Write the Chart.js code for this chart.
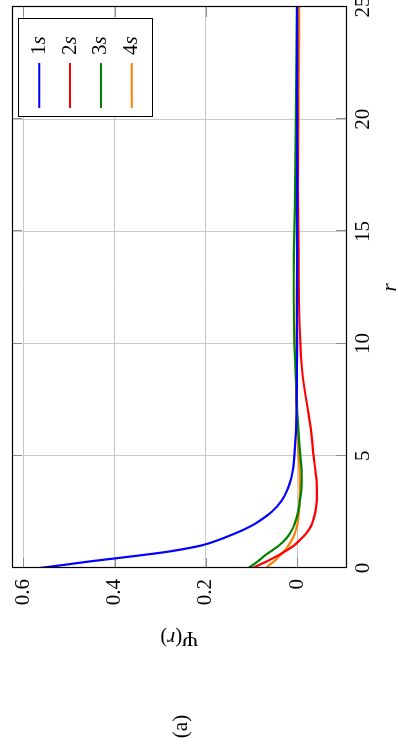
<!DOCTYPE html>
<html><head><meta charset="utf-8">
<script src="https://cdn.jsdelivr.net/npm/chart.js@4.4.1/dist/chart.umd.min.js"></script>
<style>
html,body{margin:0;padding:0;background:#fff;overflow:hidden;width:398px;height:751px;}
#wrap{position:absolute;left:0;top:0;width:751px;height:398px;transform-origin:0 0;transform:translate(0,751px) rotate(-90deg);}
canvas{display:block;}
</style></head><body>
<div id="wrap"><canvas id="c" width="751" height="398"></canvas></div>
<script>
// ---- data ----
const rValues = [0,0.15,0.3,0.45,0.6,0.75,1,1.25,1.5,1.75,2,2.5,3,3.5,4,4.5,5,6,7,8,9,10,12,14,16,18,20,22.5,25];
const psi1s = [0.564,0.507,0.452,0.390,0.330,0.276,0.211,0.172,0.141,0.113,0.090,0.056,0.034,0.021,0.013,0.0085,0.006,0.003,0.0015,0.0008,0.0004,0.0002,0,0,0,0,0,0,0];
const psi2s = [0.097,0.082,0.066,0.052,0.038,0.026,0.007,-0.006,-0.018,-0.027,-0.033,-0.040,-0.043,-0.043,-0.042,-0.039,-0.036,-0.031,-0.024,-0.016,-0.010,-0.0068,-0.004,-0.003,-0.002,-0.0015,-0.001,-0.0005,0];
const psi3s = [0.107,0.096,0.086,0.077,0.068,0.057,0.040,0.027,0.017,0.010,0.005,-0.002,-0.006,-0.009,-0.010,-0.009,-0.007,-0.003,0.000,0.002,0.004,0.006,0.0075,0.0072,0.005,0.0038,0.003,0.0018,0.0007];
const psi4s = [0.068,0.060,0.050,0.043,0.036,0.029,0.019,0.012,0.006,0.002,-0.001,-0.004,-0.005,-0.006,-0.006,-0.005,-0.003,-0.001,0.001,0.0025,0.003,0.002,0.001,0,-0.001,-0.002,-0.003,-0.0037,-0.0044];
const seriesNames = ['1s','2s','3s','4s'];
const seriesColors = ['#0000ff','#ff0000','#008000','#ff8000'];
const xTicks = [0,5,10,15,20,25];
const yTicks = [0,0.2,0.4,0.6];
const xTitle = 'r';
const yTitle = 'Ψ(r)';
const caption = '(a)';

const FONT = "'Liberation Serif','DejaVu Serif','Times New Roman',serif";
const FS = 21;

function drawRich(ctx, parts, x, y, align){
  let w = 0;
  parts.forEach(p=>{ctx.font=(p.it?'italic ':'')+FS+'px '+FONT; p.w=ctx.measureText(p.t).width; w+=p.w;});
  let cx = align==='center' ? x-w/2 : (align==='right'? x-w : x);
  ctx.textAlign='left';
  parts.forEach(p=>{ctx.font=(p.it?'italic ':'')+FS+'px '+FONT; ctx.fillText(p.t,cx,y); cx+=p.w;});
}
function splitLabel(s){ const parts=[]; for(const ch of s){ parts.push({t:ch,it:/[a-z]/.test(ch)}); } return parts; }

const sets = [psi1s,psi2s,psi3s,psi4s];
const datasets = sets.map((arr,i)=>({
  label: seriesNames[i],
  data: rValues.map((r,j)=>({x:r,y:arr[j]})),
  borderColor: seriesColors[i],
  borderWidth: 2.2,
  pointRadius: 0,
  fill: false,
  tension: 0.3
}));

const decor = {
  id:'decor',
  beforeDatasetsDraw(chart){
    const {ctx, chartArea:a, scales:{x,y}} = chart;
    ctx.save();
    ctx.strokeStyle='#8c8c8c'; ctx.lineWidth=1;
    const L=10;
    xTicks.forEach(v=>{const p=Math.round(x.getPixelForValue(v))+0.5;
      ctx.beginPath();ctx.moveTo(p,a.top);ctx.lineTo(p,a.top+L);ctx.moveTo(p,a.bottom);ctx.lineTo(p,a.bottom-L);ctx.stroke();});
    yTicks.forEach(v=>{const p=Math.round(y.getPixelForValue(v))+0.5;
      ctx.beginPath();ctx.moveTo(a.left,p);ctx.lineTo(a.left+L,p);ctx.moveTo(a.right,p);ctx.lineTo(a.right-L,p);ctx.stroke();});
    ctx.restore();
  },
  afterDraw(chart){
    const {ctx, chartArea:a} = chart;
    ctx.save();
    ctx.strokeStyle='#000'; ctx.lineWidth=1.2;
    ctx.strokeRect(a.left+0.5,a.top+0.5,a.right-a.left,a.bottom-a.top);
    const lx=634, ly=18, lw=98, lh=134;
    ctx.fillStyle='#fff'; ctx.fillRect(lx,ly,lw,lh);
    ctx.lineWidth=1; ctx.strokeStyle='#000'; ctx.strokeRect(lx+0.5,ly+0.5,lw,lh);
    ctx.textBaseline='middle'; ctx.fillStyle='#000';
    chart.data.datasets.forEach((ds,i)=>{
      const v = 39.3 + i*30.8;
      ctx.strokeStyle=ds.borderColor; ctx.lineWidth=2;
      ctx.beginPath(); ctx.moveTo(643,v); ctx.lineTo(688,v); ctx.stroke();
      ctx.fillStyle='#000';
      drawRich(ctx, splitLabel(ds.label), 696, v, 'left');
    });
    drawRich(ctx,[{t:xTitle,it:true}], (a.left+a.right)/2, 390, 'center');
    ctx.save();
    ctx.translate(113.5,(a.top+a.bottom)/2);
    ctx.rotate(-Math.PI/2);
    const m = yTitle.match(/^(.)\((.)\)$/);
    drawRich(ctx,[{t:m[1],it:false},{t:'(',it:false},{t:m[2],it:true},{t:')',it:false}],0,0,'center');
    ctx.restore();
    drawRich(ctx,[{t:caption,it:false}],24.5,181.5,'center');
    ctx.restore();
  }
};

new Chart(document.getElementById('c'),{
  type:'line',
  data:{datasets},
  options:{
    responsive:false, animation:false, devicePixelRatio:1,
    layout:{padding:{top:12,right:7,left:0,bottom:0}},
    plugins:{legend:{display:false},tooltip:{enabled:false}},
    scales:{
      x:{type:'linear',min:0,max:25,
        afterBuildTicks:s=>{s.ticks=xTicks.map(v=>({value:v}));},
        afterFit:s=>{s.height=52;s.paddingLeft=0;s.paddingRight=0;},
        ticks:{color:'#000',padding:5,maxRotation:0,autoSkip:false,font:{family:FONT,size:FS,lineHeight:1.2}},
        grid:{color:'#c8c8c8',lineWidth:1,drawTicks:false},
        border:{display:false}},
      y:{type:'linear',min:-0.107,max:0.625,
        afterBuildTicks:s=>{s.ticks=yTicks.map(v=>({value:v}));},
        afterFit:s=>{s.width=183;s.paddingTop=0;s.paddingBottom=0;},
        ticks:{color:'#000',padding:11,autoSkip:false,font:{family:FONT,size:FS,lineHeight:1.2},
          callback:v=>String(+v.toFixed(1))},
        grid:{color:'#c8c8c8',lineWidth:1,drawTicks:false},
        border:{display:false}}
    }
  },
  plugins:[decor]
});
</script>
</body></html>
